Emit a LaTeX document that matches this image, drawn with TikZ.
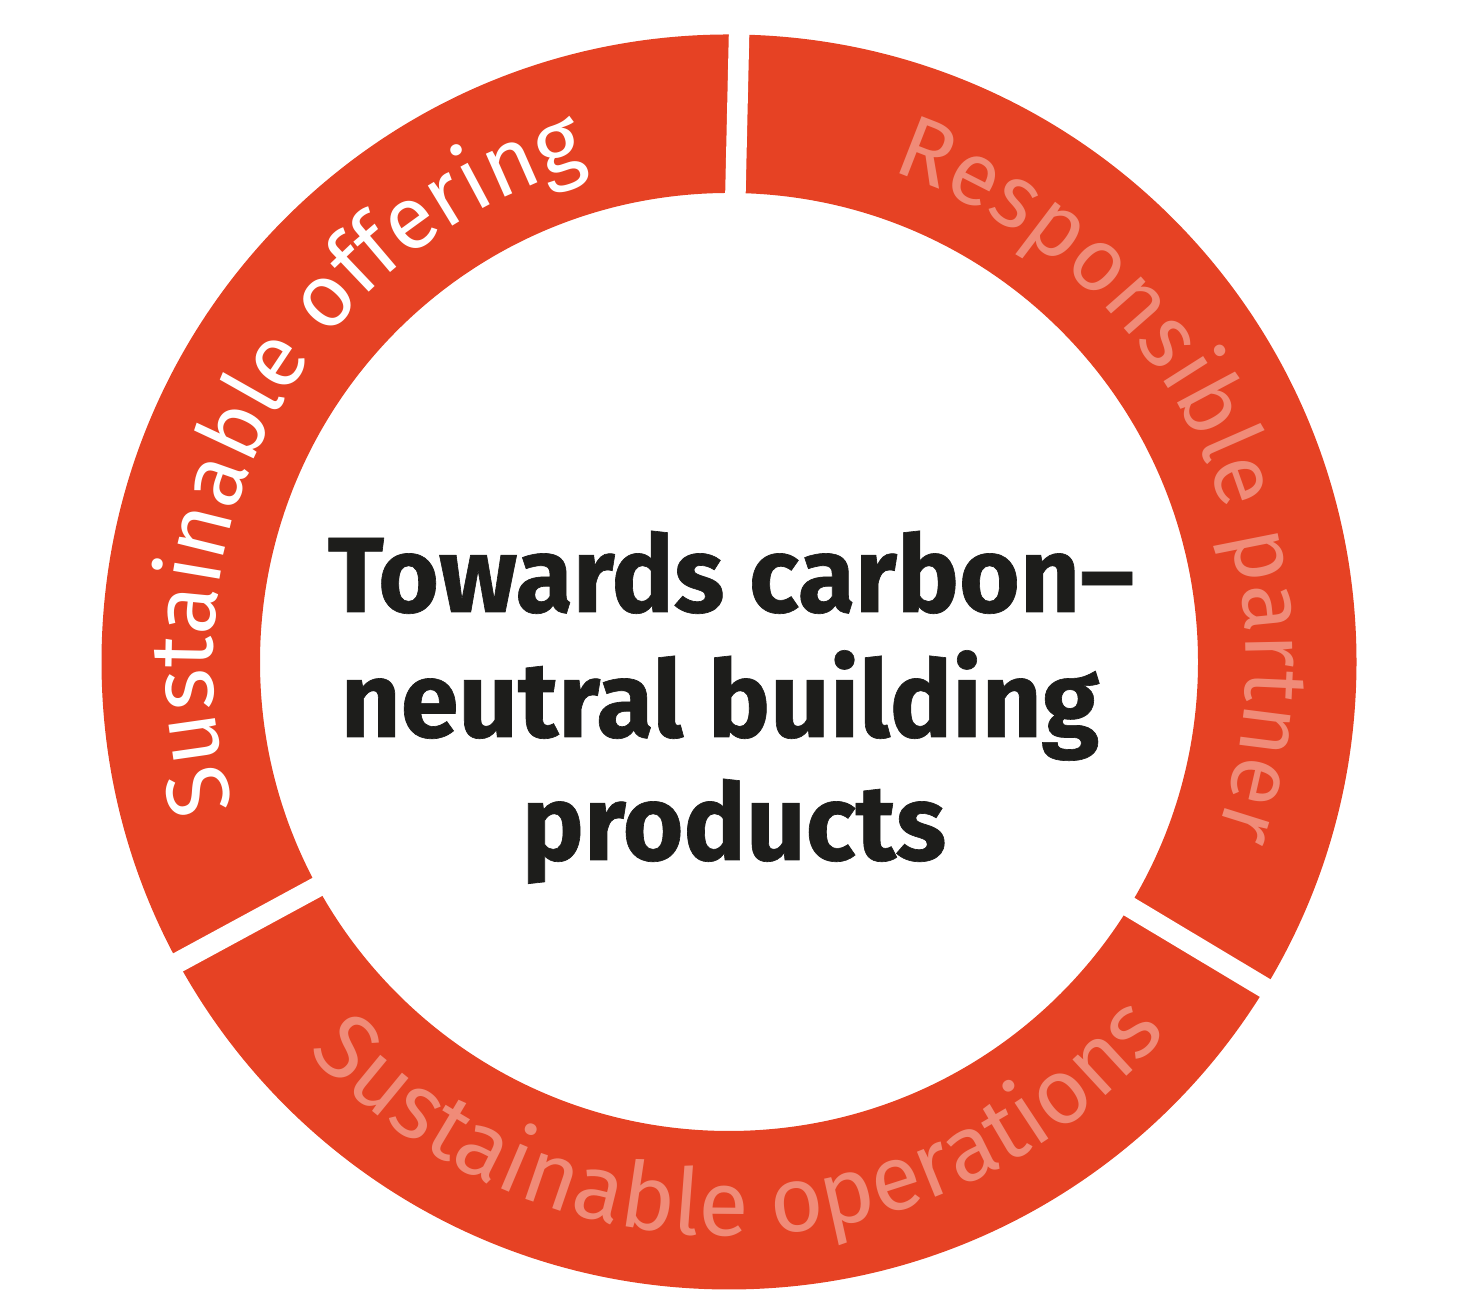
\documentclass[tikz,border=0pt]{standalone}
\usepackage{fontspec}
\setmainfont{Fira Sans}
\newfontfamily\titlefont{Fira Sans}[BoldFeatures={FakeStretch=0.975,FakeBold=0.6}]
\usetikzlibrary{decorations.text}

\definecolor{ringred}{HTML}{E64224}
\definecolor{palered}{HTML}{F08B78}
\definecolor{inkblack}{HTML}{1D1D1B}

\tikzset{
  gapline/.style={white, line width=2.05mm},
  titletext/.style={inkblack, font=\titlefont\bfseries\fontsize{30.4}{35}\selectfont, inner sep=0pt, anchor=base},
}
\newcommand{\arcfont}{\fontsize{25.3}{30}\selectfont}
\newcommand{\lowarcfont}{\fontsize{26.2}{30}\selectfont}

\begin{document}
\begin{tikzpicture}[x=0.01cm, y=0.01cm]
\useasboundingbox (0,0) rectangle (1457,1292);
\coordinate (c) at (729,630);
% ring and the three cuts
\fill [ringred, even odd rule] (c) circle (627.5) (c) circle (469);
\draw [gapline] (733.7,1022) -- (740.4,1317);
\draw [gapline] (367.2,432.1) -- (106.7,290.9);
\draw [gapline] (1080.0,414.8) -- (1333.6,262.9);
% ring labels
\path [shift={(c)}, decorate, decoration={text along path, text align=center,
  text color=white, text={|\arcfont|Sustainable offering}}]
  (221.1:516) arc [start angle=221.1, end angle=81.1, radius=516];
\path [shift={(c)}, decorate, decoration={text along path, text align=center,
  text color=palered, text={|\arcfont|Responsible partner}}]
  (96.2:517) arc [start angle=96.2, end angle=-43.8, radius=517];
\path [shift={(c)}, decorate, decoration={text along path, text align=center,
  text color=palered, text={|\lowarcfont|Sustainable operations}}]
  (191.3:574) arc [start angle=191.3, end angle=351.3, radius=574];
% centre text
\node [titletext] (line1) at (731,680) {Towards carbon–};
\node [titletext] (line2) at (720,555) {neutral building};
\node [titletext] (line3) at (734,432) {products};
\end{tikzpicture}
\end{document}
